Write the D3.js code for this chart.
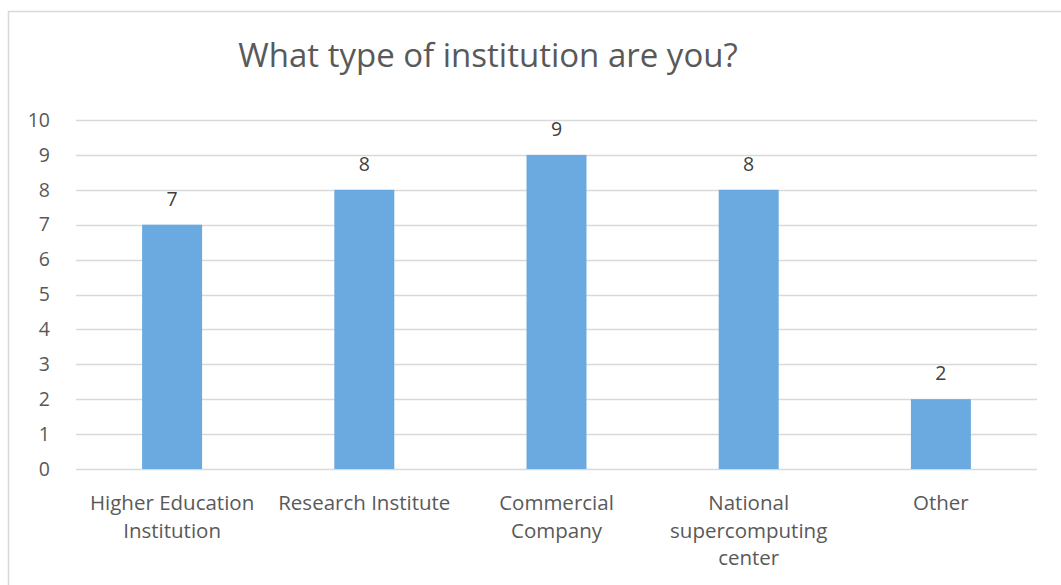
<!DOCTYPE html>
<html>
<head>
<meta charset="utf-8">
<script src="https://cdn.jsdelivr.net/npm/d3@7"></script>
<style>
  html, body { margin: 0; padding: 0; background: #fff; }
  svg { display: block; }
  text { font-family: "Open Sans", "Noto Sans", sans-serif; }
</style>
</head>
<body>
<svg id="chart" width="1061" height="585"></svg>
<script>
const title = "What type of institution are you?";
const categories = [
  ["Higher Education", "Institution"],
  ["Research Institute"],
  ["Commercial", "Company"],
  ["National", "supercomputing", "center"],
  ["Other"]
];
const values = [7, 8, 9, 8, 2];
const yTicks = [0, 1, 2, 3, 4, 5, 6, 7, 8, 9, 10];

const W = 1061, H = 585;
const margin = { left: 76, right: 24, top: 120, bottom: 116 };
const svg = d3.select("#chart");

// outer border (chart area frame)
svg.append("path")
  .attr("d", `M8.5,${H} V11.5 H${W}`)
  .attr("fill", "none")
  .attr("stroke", "#d9d9d9")
  .attr("stroke-width", 1.5);

const x = d3.scaleBand()
  .domain(categories.map((c, i) => i))
  .range([margin.left, W - margin.right])
  .paddingInner(0.688)
  .paddingOuter(0.344);

const y = d3.scaleLinear()
  .domain([0, 10])
  .range([H - margin.bottom, margin.top]);

// gridlines
svg.append("g")
  .selectAll("line")
  .data(yTicks)
  .join("line")
  .attr("x1", margin.left)
  .attr("x2", W - margin.right)
  .attr("y1", d => Math.round(y(d)) + 0.5)
  .attr("y2", d => Math.round(y(d)) + 0.5)
  .attr("stroke", "#d9d9d9")
  .attr("stroke-width", 1.3);

// y axis labels
const yAxis = d3.axisLeft(y).tickValues(yTicks).tickSize(0).tickPadding(0);
const gy = svg.append("g").attr("transform", `translate(${50},0)`).call(yAxis);
gy.select(".domain").remove();
gy.selectAll("text")
  .attr("font-size", 19.5)
  .attr("fill", "#595959")
  .attr("font-family", '"Open Sans", sans-serif');

// bars
svg.append("g")
  .selectAll("rect")
  .data(values)
  .join("rect")
  .attr("x", (d, i) => x(i))
  .attr("width", x.bandwidth())
  .attr("y", d => y(d))
  .attr("height", d => y(0) - y(d))
  .attr("fill", "#6aaae0");

// data labels
svg.append("g")
  .selectAll("text")
  .data(values)
  .join("text")
  .attr("x", (d, i) => x(i) + x.bandwidth() / 2)
  .attr("y", d => y(d) - 19)
  .attr("text-anchor", "middle")
  .attr("font-size", 19.5)
  .attr("fill", "#404040")
  .text(d => d);

// category labels
const gx = svg.append("g");
categories.forEach((lines, i) => {
  const t = gx.append("text")
    .attr("x", x(i) + x.bandwidth() / 2)
    .attr("y", 510)
    .attr("text-anchor", "middle")
    .attr("font-size", 20.5)
    .attr("fill", "#595959");
  lines.forEach((ln, j) => {
    t.append("tspan")
      .attr("x", x(i) + x.bandwidth() / 2)
      .attr("dy", j === 0 ? 0 : 27.5)
      .text(ln);
  });
});

// title
svg.append("text")
  .attr("x", 488)
  .attr("y", 67)
  .attr("text-anchor", "middle")
  .attr("font-size", 33)
  .attr("fill", "#595959")
  .text(title);
</script>
</body>
</html>
